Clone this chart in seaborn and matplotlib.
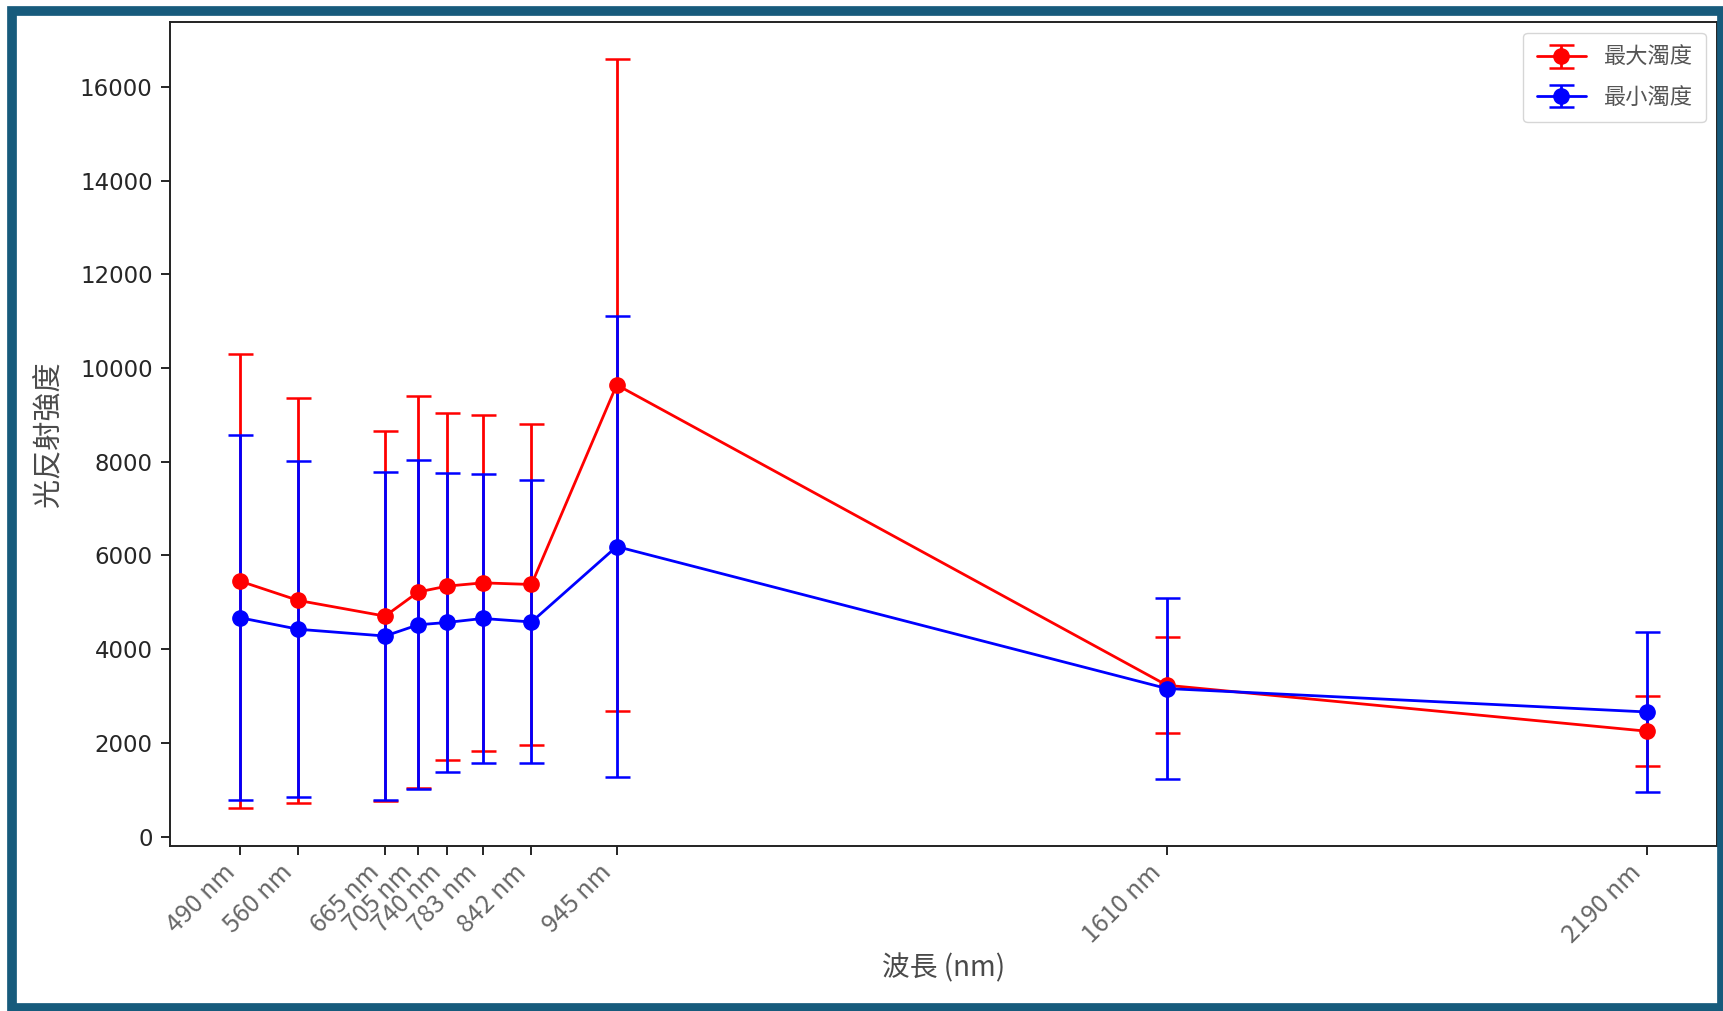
import matplotlib
matplotlib.use("Agg")
import matplotlib.pyplot as plt
from matplotlib.patches import Rectangle
import seaborn as sns

# 波長與兩組濁度的平均 / 標準差
wavelengths = [490, 560, 665, 705, 740, 783, 842, 945, 1610, 2190]
tick_labels = [f"{w} nm" for w in wavelengths]

max_mean = [5450, 5040, 4705, 5220, 5345, 5415, 5380, 9640, 3230, 2250]
max_std = [4845, 4320, 3955, 4180, 3700, 3585, 3420, 6950, 1020, 750]
min_mean = [4670, 4425, 4280, 4520, 4570, 4655, 4580, 6190, 3160, 2660]
min_std = [3890, 3590, 3490, 3510, 3190, 3090, 3020, 4920, 1940, 1710]

series_labels = ["最大濁度", "最小濁度"]
series_colors = ["red", "blue"]

cjk = ["Noto Sans CJK TC", "DejaVu Sans"]
text_gray = "#4a4a4a"


def plot_reflectance():
    sns.set_style("ticks")
    plt.rcParams["font.family"] = ["DejaVu Sans"]

    fig = plt.figure(figsize=(17.24, 10.11), dpi=100)
    ax = fig.add_axes([0.0986, 0.1635, 0.8973, 0.815])

    for mean, std, lab, col in zip([max_mean, min_mean], [max_std, min_std],
                                   series_labels, series_colors):
        ax.errorbar(wavelengths, mean, yerr=std, fmt="-o", color=col,
                    ecolor=col, label=lab, linewidth=2.0, markersize=11,
                    elinewidth=2.0, capsize=9, capthick=1.8)

    ax.set_xticks(wavelengths)
    ax.set_xticklabels(tick_labels, rotation=45, ha="right", fontsize=18,
                       family=cjk, color="#666666", fontweight="light")
    ax.tick_params(axis="y", labelsize=16.5, length=6.5, width=1.4, pad=6)
    ax.tick_params(axis="x", length=6.5, width=1.4)

    ax.set_xlabel("波長 (nm)", fontsize=20, family=cjk, color=text_gray,
                  labelpad=4)
    ax.set_ylabel("光反射強度", fontsize=21, family=cjk, color=text_gray,
                  labelpad=12)

    for s in ax.spines.values():
        s.set_linewidth(1.4)
        s.set_color("#222222")

    leg = ax.legend(loc="upper right", prop={"family": cjk, "size": 16},
                    handlelength=2.2, borderpad=0.6, labelspacing=0.75)
    for t in leg.get_texts():
        t.set_color("#555555")

    # 截圖外框
    fig.patches.append(Rectangle((0.00696, 0.003), 0.9916, 0.986,
                                 transform=fig.transFigure, fill=False,
                                 edgecolor="#175b7c", linewidth=7, zorder=10))

    fig.savefig("out.png", dpi=100)


if __name__ == "__main__":
    plot_reflectance()
